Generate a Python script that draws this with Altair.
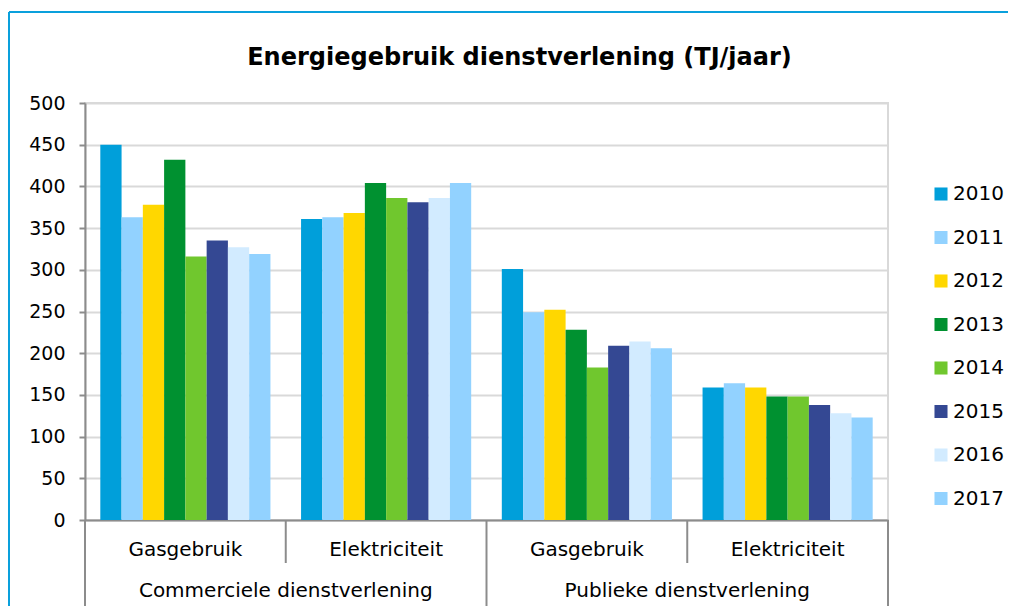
import altair as alt
import pandas as pd

years = ["2010", "2011", "2012", "2013", "2014", "2015", "2016", "2017"]
colors = ["#009FDA", "#92D2FF", "#FFD700", "#009130", "#70C72E", "#344893", "#D2EBFF", "#92D2FF"]

sectors = ["Commerciele dienstverlening", "Commerciele dienstverlening",
           "Publieke dienstverlening", "Publieke dienstverlening"]
types = ["Gasgebruik", "Elektriciteit", "Gasgebruik", "Elektriciteit"]

comm_gas = [450, 363, 378, 432, 316, 335, 327, 319]
comm_elec = [361, 363, 368, 404, 386, 381, 386, 404]
publ_gas = [301, 249, 252, 228, 183, 209, 214, 206]
publ_elec = [159, 164, 159, 148, 148, 138, 128, 123]
series = [comm_gas, comm_elec, publ_gas, publ_elec]

cats = [f"{s}|{t}" for s, t in zip(sectors, types)]

rows = []
for cat, vals in zip(cats, series):
    for y, v in zip(years, vals):
        rows.append({"cat": cat, "year": y, "value": v})
df = pd.DataFrame(rows)

cat_df = pd.DataFrame({"cat": cats, "type": types, "sector": sectors})

W, H = 803, 417
FONT = "DejaVu Sans"
AXIS_GRAY = "#8C8C8C"
GRID_GRAY = "#D9D9D9"

xscale = alt.Scale(domain=cats, paddingInner=0, paddingOuter=0)

bars = alt.Chart(df).mark_bar().encode(
    x=alt.X("cat:N", scale=xscale, sort=cats,
            axis=alt.Axis(labels=False, ticks=False, title=None, domainColor=AXIS_GRAY,
                          domainWidth=2, grid=False)),
    xOffset=alt.XOffset("year:N", scale=alt.Scale(domain=years, paddingOuter=0.72, paddingInner=0)),
    y=alt.Y("value:Q", scale=alt.Scale(domain=[0, 500], nice=False),
            axis=alt.Axis(values=list(range(0, 501, 50)), title=None, grid=True,
                          gridColor=GRID_GRAY, gridWidth=2, domainColor=AXIS_GRAY,
                          domainWidth=2, tickColor=AXIS_GRAY, tickWidth=2, tickSize=6,
                          labelFontSize=19, labelFont=FONT, labelColor="#000000",
                          labelPadding=14)),
    color=alt.Color("year:N", scale=alt.Scale(domain=years, range=colors),
                    legend=alt.Legend(title=None, orient="none", legendX=846, legendY=81,
                                      symbolType="square", symbolSize=170,
                                      symbolStrokeWidth=0, labelFontSize=20,
                                      labelFont=FONT, labelColor="#000000",
                                      rowPadding=23.5, labelOffset=2, padding=0)),
)

outer_left = alt.Chart(cat_df[cat_df["type"] == "Gasgebruik"]).mark_rule(
    color=AXIS_GRAY, strokeWidth=2).encode(
    x=alt.X("cat:N", bandPosition=0, scale=xscale, sort=cats),
    y=alt.value(H), y2=alt.value(H + 88))

outer_right = alt.Chart(cat_df[cat_df["cat"] == cats[-1]]).mark_rule(
    color=AXIS_GRAY, strokeWidth=2).encode(
    x=alt.X("cat:N", bandPosition=1, scale=xscale, sort=cats),
    y=alt.value(H), y2=alt.value(H + 88))

inner = alt.Chart(cat_df[cat_df["type"] == "Elektriciteit"]).mark_rule(
    color=AXIS_GRAY, strokeWidth=2).encode(
    x=alt.X("cat:N", bandPosition=0, scale=xscale, sort=cats),
    y=alt.value(H), y2=alt.value(H + 43))

type_labels = alt.Chart(cat_df).mark_text(
    fontSize=20, font=FONT, color="#000000", baseline="middle").encode(
    x=alt.X("cat:N", bandPosition=0.5, scale=xscale, sort=cats),
    y=alt.value(H + 30), text="type:N")

sector_labels = alt.Chart(cat_df[cat_df["type"] == "Elektriciteit"]).mark_text(
    fontSize=20, font=FONT, color="#000000", baseline="middle").encode(
    x=alt.X("cat:N", bandPosition=0, scale=xscale, sort=cats),
    y=alt.value(H + 71), text="sector:N")

frame_data = alt.Data(values=[{"a": 1}])
frame_v = alt.Chart(frame_data).mark_rule(color="#0AA0DC", strokeWidth=2).encode(
    x=alt.value(-76), y=alt.value(-91), y2=alt.value(H + 120))
frame_h = alt.Chart(frame_data).mark_rule(color="#0AA0DC", strokeWidth=2).encode(
    x=alt.value(-76), x2=alt.value(W + 140), y=alt.value(-91))

chart = alt.layer(
    bars, outer_left, outer_right, inner, type_labels, sector_labels, frame_v, frame_h
).properties(
    width=W, height=H,
    title=alt.TitleParams("Energiegebruik dienstverlening (TJ/jaar)", fontSize=24,
                          fontWeight="bold", font=FONT, color="#000000",
                          anchor="middle", dx=33, offset=32, dy=91),
    autosize=alt.AutoSizeParams(type="none"),
    padding={"left": 77, "top": 95, "right": 120, "bottom": 86},
).configure_view(stroke=GRID_GRAY, strokeWidth=2)

chart.save("out.html", embed_options={"renderer": "svg", "actions": False})
